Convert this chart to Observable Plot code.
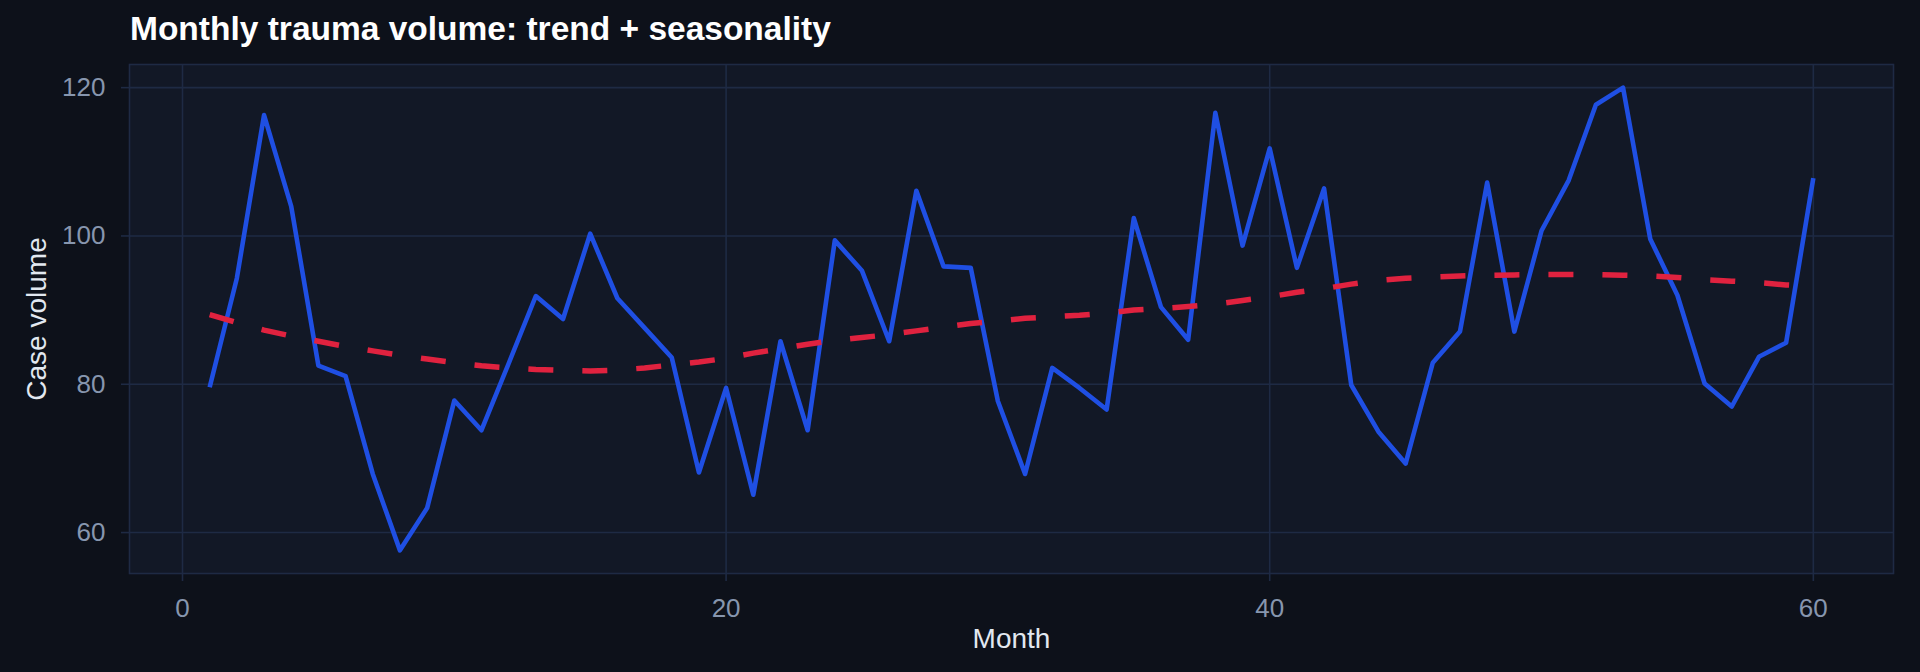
<!DOCTYPE html>
<html>
<head>
<meta charset="utf-8">
<script src="https://cdn.jsdelivr.net/npm/d3@7"></script>
<script src="https://cdn.jsdelivr.net/npm/@observablehq/plot@0.6"></script>
<style>
  html, body { margin: 0; padding: 0; background: #0d111a; }
  #wrap { width: 1920px; height: 672px; overflow: hidden; background: #0d111a; }
  #title {
    height: 50px; box-sizing: border-box; padding-top: 12px; padding-left: 130px;
    font-family: "Liberation Sans", Arial, sans-serif; font-weight: bold; font-size: 33.5px;
    line-height: 1; color: #ffffff; white-space: nowrap;
  }
</style>
</head>
<body>
<div id="wrap">
  <div id="title">Monthly trauma volume: trend + seasonality</div>
  <div id="chart"></div>
</div>
<script>
const months = d3.range(1, 61);
const cases = [
  79.6, 94.3, 116.3, 104.0, 82.5, 81.1, 67.9, 57.6, 63.3, 77.8,
  73.8, 82.8, 91.9, 88.8, 100.3, 91.6, 87.6, 83.6, 68.1, 79.5,
  65.1, 85.8, 73.8, 99.4, 95.3, 85.8, 106.1, 95.9, 95.7, 77.7,
  67.9, 82.2, 79.5, 76.6, 102.4, 90.4, 86.0, 116.6, 98.7, 111.8,
  95.7, 106.4, 79.9, 73.6, 69.3, 82.9, 87.1, 107.2, 87.1, 100.7,
  107.5, 117.7, 120.0, 99.6, 92.0, 80.1, 77.0, 83.7, 85.6, 107.8
];
const trend = [
  89.4, 88.3, 87.3, 86.5, 85.8, 85.1, 84.5, 83.9, 83.4, 82.9,
  82.5, 82.2, 82.0, 81.9, 81.8, 81.9, 82.2, 82.6, 83.0, 83.5,
  84.2, 84.8, 85.4, 85.9, 86.3, 86.7, 87.2, 87.7, 88.2, 88.5,
  88.9, 89.1, 89.3, 89.6, 90.0, 90.2, 90.5, 90.8, 91.3, 91.8,
  92.4, 92.9, 93.5, 94.0, 94.3, 94.45, 94.6, 94.7, 94.75, 94.8,
  94.8, 94.8, 94.7, 94.6, 94.4, 94.1, 93.9, 93.7, 93.4, 93.2
];
const xTicks = [0, 20, 40, 60];
const yTicks = [60, 80, 100, 120];

const data = months.map((m, i) => ({month: m, cases: cases[i], trend: trend[i]}));

const xExt = d3.extent(months);
const yExt = d3.extent(cases.concat(trend));
const xPad = (xExt[1] - xExt[0]) * 0.05;
const yPad = (yExt[1] - yExt[0]) * 0.05;

const gridColor = "#1e2a44";

const chart = Plot.plot({
  width: 1920,
  height: 622,
  marginTop: 14,
  marginBottom: 99,
  marginLeft: 129,
  marginRight: 27,
  style: {
    background: "transparent",
    fontFamily: "'Liberation Sans', Arial, sans-serif",
    fontSize: "26px",
    color: "#8796ae",
    overflow: "visible"
  },
  x: {
    domain: [xExt[0] - xPad, xExt[1] + xPad],
    ticks: xTicks,
    label: null
  },
  y: {
    domain: [yExt[0] - yPad, yExt[1] + yPad],
    ticks: yTicks,
    label: null
  },
  marks: [
    Plot.frame({fill: "#121826", stroke: null}),
    Plot.gridX(xTicks, {stroke: gridColor, strokeOpacity: 1, strokeWidth: 1.6}),
    Plot.gridY(yTicks, {stroke: gridColor, strokeOpacity: 1, strokeWidth: 1.6}),
    Plot.frame({stroke: gridColor, strokeWidth: 1.6}),
    Plot.axisX(xTicks, {
      stroke: gridColor, strokeWidth: 1.6, tickSize: 8, tickPadding: 17,
      fill: "#8796ae", fontSize: 26,
      label: "Month", labelAnchor: "center", labelOffset: 74, labelArrow: "none"
    }),
    Plot.axisY(yTicks, {
      stroke: gridColor, strokeWidth: 1.6, tickSize: 8, tickPadding: 16,
      fill: "#8796ae", fontSize: 26,
      label: "Case volume", labelAnchor: "center", labelOffset: 103, labelArrow: "none"
    }),
    Plot.line(data, {x: "month", y: "cases", stroke: "#1f4fe3", strokeWidth: 4.6, strokeLinejoin: "round", strokeLinecap: "butt"}),
    Plot.line(data, {x: "month", y: "trend", stroke: "#e0223f", strokeWidth: 5.5, strokeDasharray: "25,29", strokeLinecap: "butt"})
  ]
});

document.getElementById("chart").appendChild(chart);

// axis title styling (and strip any arrow glyphs)
chart.querySelectorAll("g[aria-label='x-axis label'] text, g[aria-label='y-axis label'] text").forEach(t => {
  t.setAttribute("fill", "#e2e8f0");
  t.setAttribute("font-size", "28");
  t.textContent = t.textContent.replace(/[\u2190-\u2193]/g, "").trim();
});
</script>
</body>
</html>
